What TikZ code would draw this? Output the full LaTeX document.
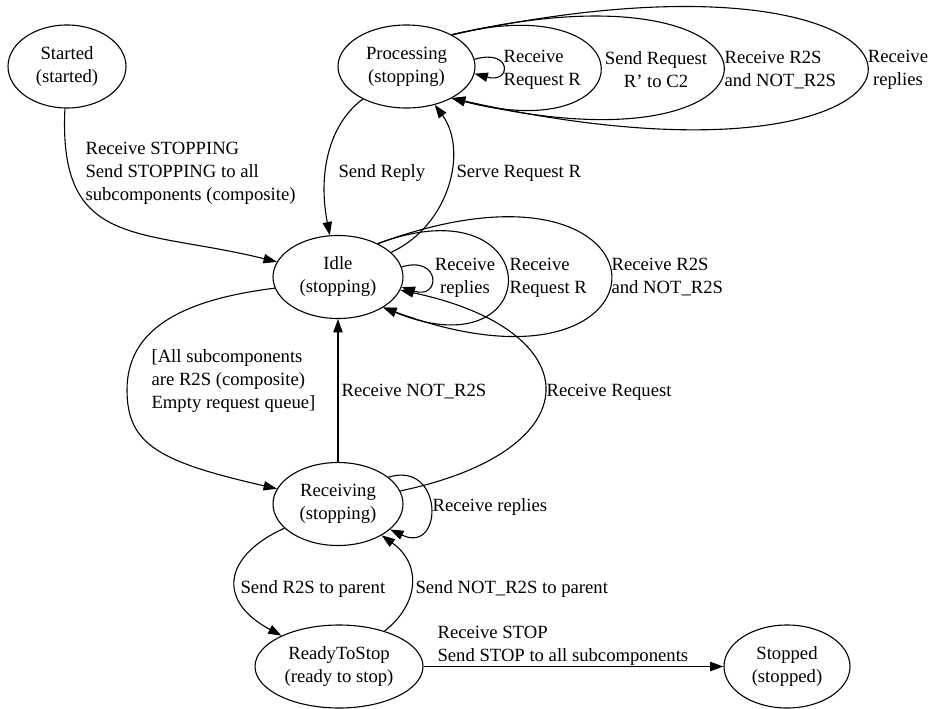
\documentclass[tikz,border=0pt]{standalone}
\usepackage{fontspec}
\setmainfont{Liberation Serif}
\usetikzlibrary{shapes.geometric,arrows.meta}

\begin{document}
\begin{tikzpicture}[x=1pt,y=-1pt,line width=1.1pt,
    font=\fontsize{18.67}{23}\selectfont,
    >={Triangle[length=13.3pt,width=9.3pt]},
    state/.style={ellipse,draw,align=center,inner sep=0pt,minimum height=83pt},
    lbl/.style={inner sep=0pt,anchor=west,align=left},
    clbl/.style={inner sep=0pt,align=center}]
    \useasboundingbox (0,0) rectangle (934,709);
    \node (started)    at (67,66.5)    [state,minimum width=118pt] {Started\\(started)};
    \node (processing) at (406.5,66.5) [state,minimum width=137pt] {Processing\\(stopping)};
    \node (idle)       at (338,277)    [state,minimum width=130pt] {Idle\\(stopping)};
    \node (receiving)  at (338,504)    [state,minimum width=130pt] {Receiving\\(stopping)};
    \node (ready)      at (339,666.5)  [state,minimum width=168pt] {ReadyToStop\\(ready to stop)};
    \node (stopped)    at (787,666.5)  [state,minimum width=126pt] {Stopped\\(stopped)};
    % started / processing
    \draw[->] (started) .. controls (58,250) and (140,228) .. (idle);
    \draw[->] (processing) .. controls (328,125) and (318,175) .. (idle);
    \draw[->] (idle) .. controls (450,225) and (468,150) .. (processing);
    \draw[->] (processing.6) .. controls (512,48) and (512,84) .. (processing.-6);
    \draw[->] (processing.35) .. controls (649,-15) and (649,150) .. (processing.-35);
    \draw[->] (processing.35) .. controls (813,-50) and (813,185) .. (processing.-35);
    \draw[->] (processing.35) .. controls (1005,-85) and (1005,222) .. (processing.-35);
    % idle
    \draw[->] (idle.9) .. controls (441,255) and (441,300) .. (idle.-9);
    \draw[->] (idle.40) .. controls (549,180) and (549,375) .. (idle.-34);
    \draw[->] (idle.40) .. controls (687,130) and (687,420) .. (idle.-34);
    \draw[->] (idle.190) .. controls (180,300) and (127,330) .. (127,390)
                         .. controls (127,445) and (160,462) .. (receiving.166);
    % receiving
    \draw[->] (receiving) -- (idle);
    \draw[->] (receiving) .. controls (595,450) and (590,330) .. (idle);
    \draw[->] (receiving.28) .. controls (444,460) and (444,555) .. (receiving.-26);
    \draw[->] (receiving) .. controls (225,555) and (215,600) .. (ready);
    \draw[->] (ready) .. controls (418,605) and (423,565) .. (receiving);
    \draw[->] (ready) -- (stopped);
    % labels
    \node (lblstopping) at (85,173.5)  [lbl]  {Receive STOPPING\\Send STOPPING to all\\subcomponents (composite)};
    \node (lblreply)    at (338,173)   [lbl]  {Send Reply};
    \node (lblserve)    at (456,173)   [lbl]  {Serve Request R};
    \node (lblprocreq)  at (503,70)    [lbl]  {Receive\\Request R};
    \node (lblprocsend) at (656,70)    [clbl] {Send Request\\R' to C2};
    \node (lblprocr2s)  at (724,70)    [lbl]  {Receive R2S\\and NOT\_R2S};
    \node (lblprocrepl) at (898,70)    [clbl] {Receive\\replies};
    \node (lblidlerepl) at (465,277.5) [clbl] {Receive\\replies};
    \node (lblidlereq)  at (509,277.5) [lbl]  {Receive\\Request R};
    \node (lblidler2s)  at (611,277.5) [lbl]  {Receive R2S\\and NOT\_R2S};
    \node (lblempty)    at (151,381.5) [lbl]  {[All subcomponents\\are R2S (composite)\\Empty request queue]};
    \node (lblnotr2s)   at (341,392)   [lbl]  {Receive NOT\_R2S};
    \node (lblreq)      at (546,392)   [lbl]  {Receive Request};
    \node (lblrecvrepl) at (432,507)   [lbl]  {Receive replies};
    \node (lblsendr2s)  at (240,589)   [lbl]  {Send R2S to parent};
    \node (lblsendnot)  at (415,589)   [lbl]  {Send NOT\_R2S to parent};
    \node (lblstop)     at (437,646)   [lbl]  {Receive STOP\\Send STOP to all subcomponents};
\end{tikzpicture}
\end{document}
